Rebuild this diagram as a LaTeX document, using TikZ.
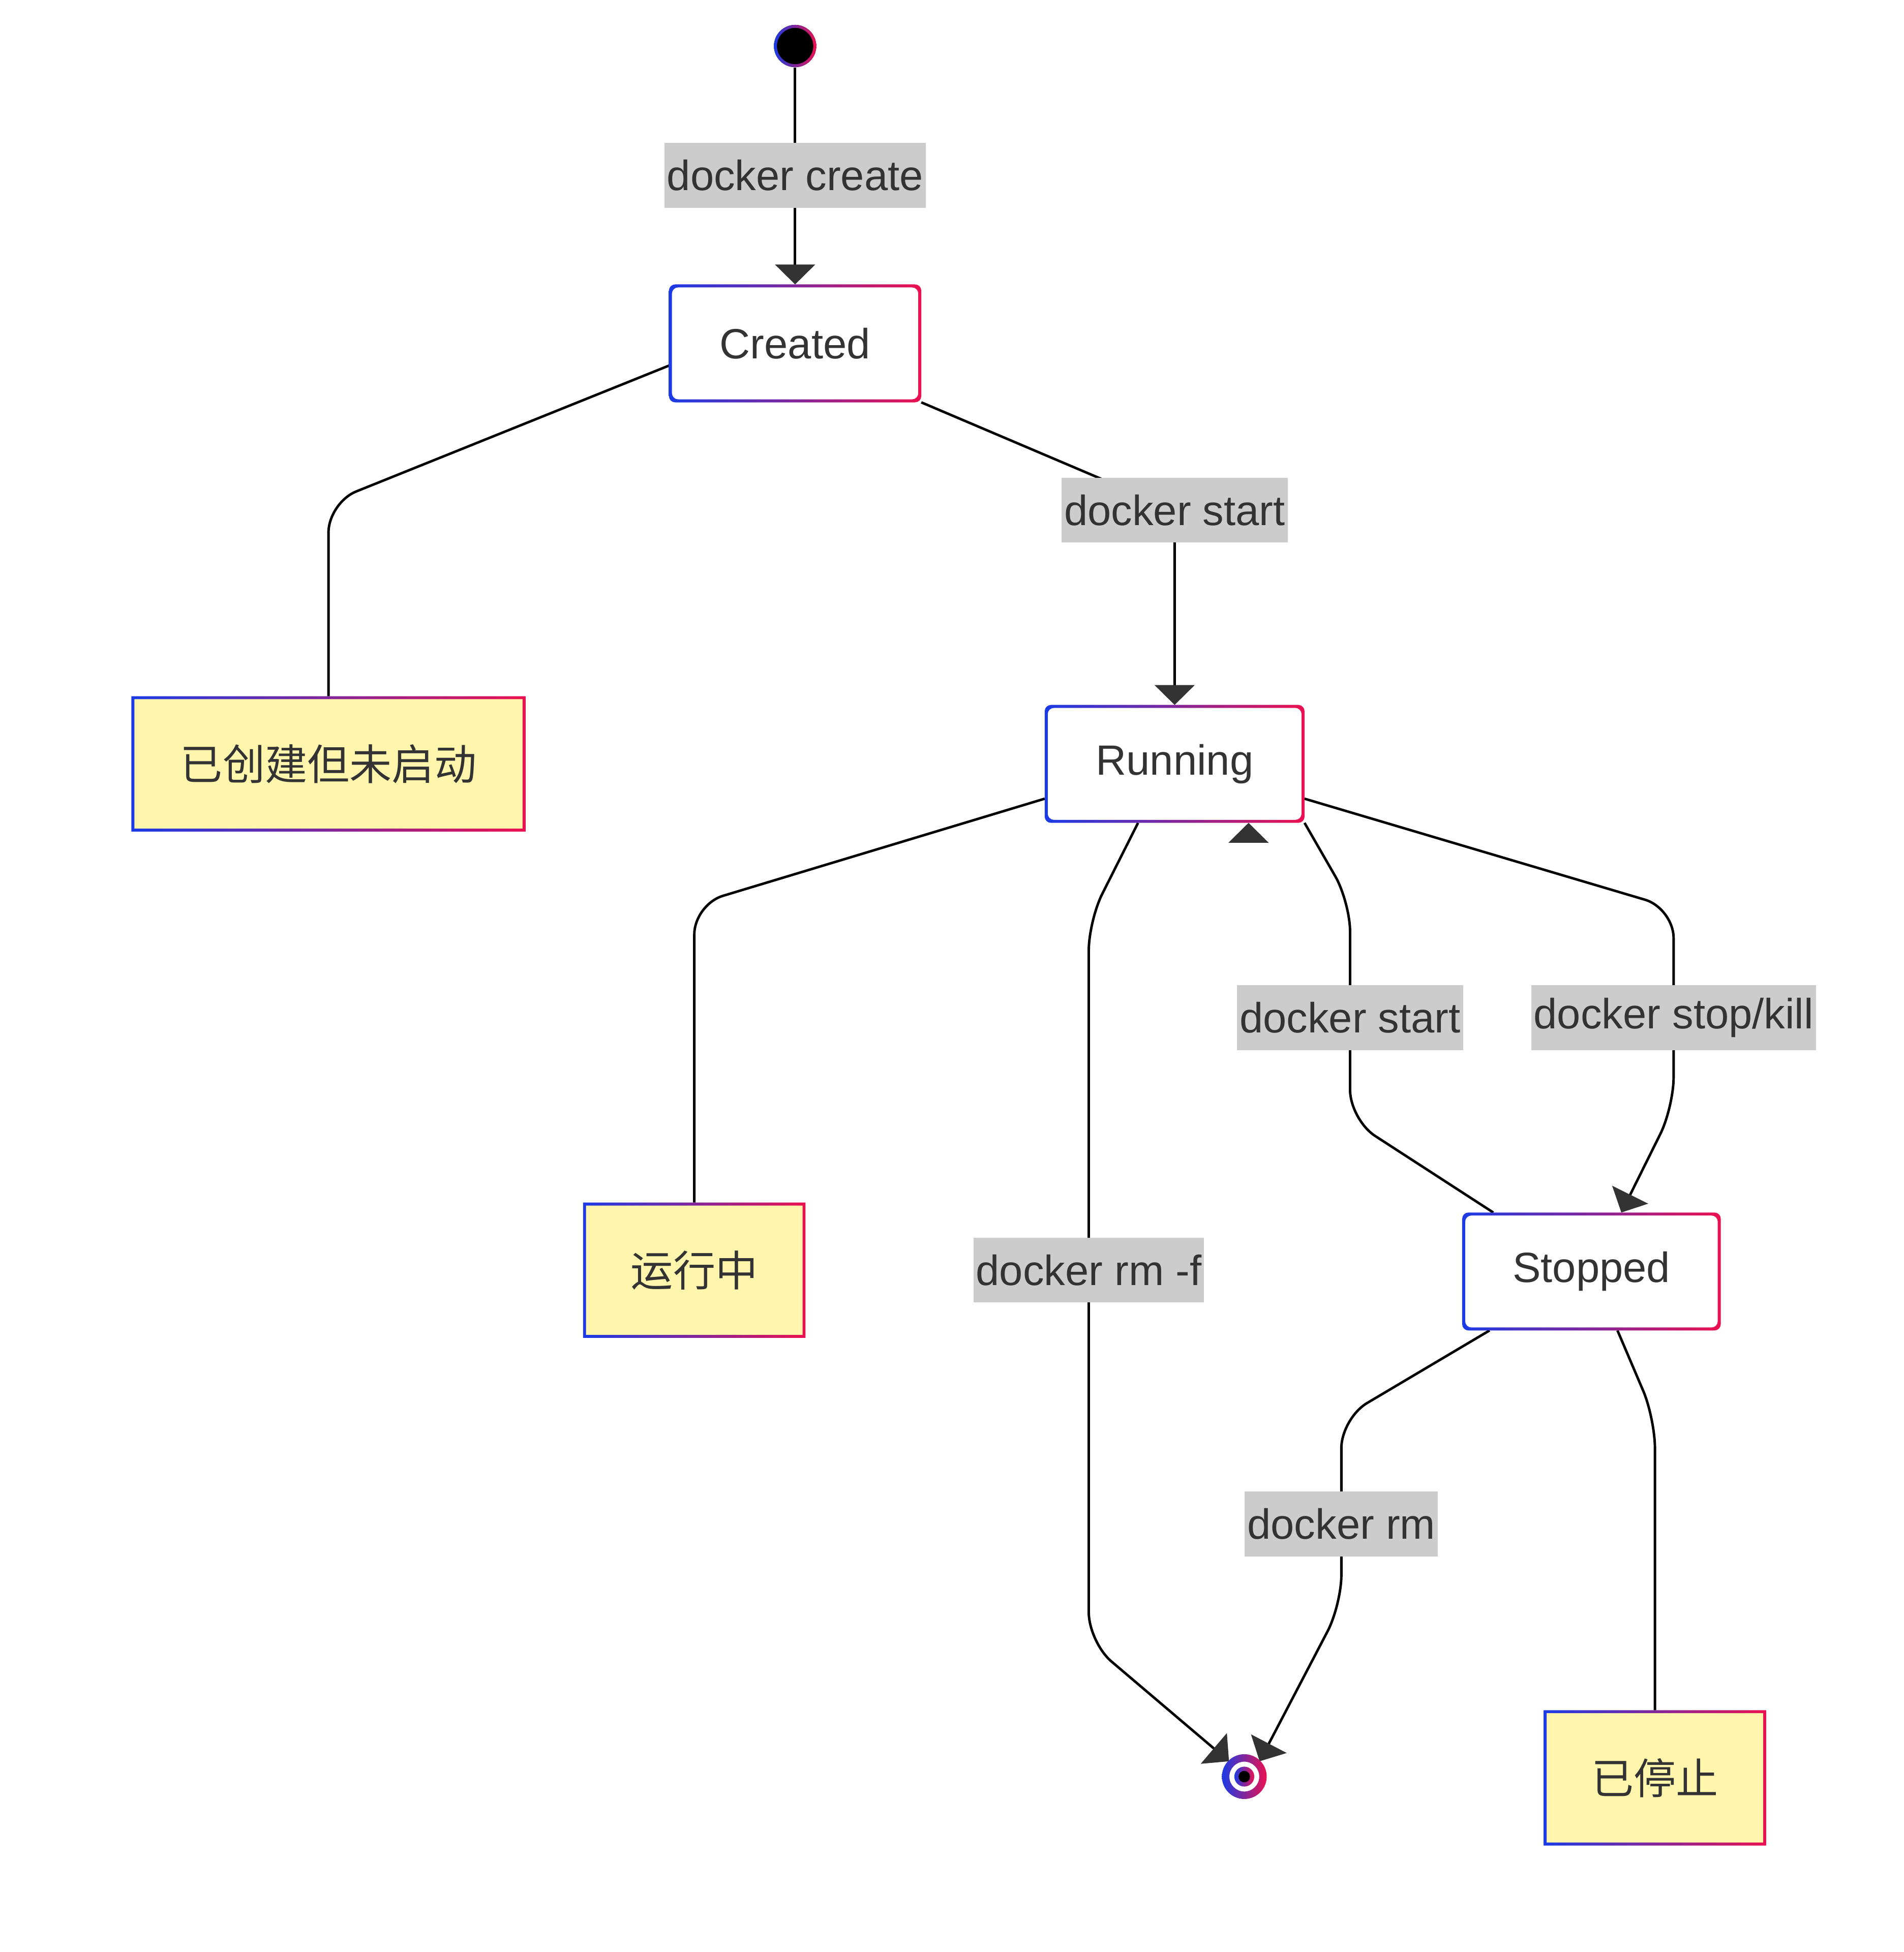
\documentclass[tikz,border=0pt]{standalone}
\usepackage{fontspec}
\setmainfont{Liberation Sans}
\newfontfamily\cjk{Noto Sans CJK SC}
\usetikzlibrary{arrows.meta}
\usetikzlibrary{positioning}
\definecolor{edgeblue}{HTML}{1A3BE6}
\definecolor{edgered}{HTML}{EB1150}
\definecolor{notefill}{HTML}{FFF5AD}
\definecolor{labelgrey}{HTML}{CCCCCC}
\definecolor{ink}{HTML}{333333}
\tikzset{
  state/.style={rectangle, rounded corners=2.5pt, fill=white, text=ink, font=\fontsize{17}{20}\selectfont, minimum height=47pt},
  note/.style={rectangle, fill=notefill, text=ink, font=\cjk\fontsize{17}{20}\selectfont, minimum height=54pt},
  trans/.style={fill=labelgrey, text=ink, font=\fontsize{17}{20}\selectfont, inner sep=1pt, minimum height=26pt},
  link/.style={draw=black, line width=1pt, rounded corners=12pt},
  go/.style={link, -{Triangle[length=8pt,width=16pt]}, arrows={[color=ink]}},
}
\newcommand\gradframe[2]{% node, corner radius
  \shade[even odd rule, left color=edgeblue, right color=edgered, rounded corners=#2]
    (#1.south west) rectangle (#1.north east)
    ([shift={(1.2pt,1.2pt)}]#1.south west) rectangle ([shift={(-1.2pt,-1.2pt)}]#1.north east);}
\begin{document}
\begin{tikzpicture}[x=0.5pt,y=-0.5pt]
\useasboundingbox (0,0) rectangle (1530,1569);
% states
\node[circle, fill=black, minimum size=17pt, inner sep=0pt] (start) at (639,37) {};
\node[state, minimum width=101pt] (created) at (639,276) {Created};
\node[state, minimum width=104pt] (running) at (944,614) {Running};
\node[state, minimum width=103.5pt] (stopped) at (1279,1022) {Stopped};
\node[circle, fill=white, minimum size=17pt, inner sep=0pt] (finish) at (1000,1428) {};
% notes
\node[note, minimum width=158pt] (notecreated) at (264,614) {已创建但未启动};
\node[note, minimum width=89pt] (noterunning) at (558,1021) {运行中};
\node[note, minimum width=89pt] (notestopped) at (1330,1429) {已停止};
% transitions
\draw[go] (start) -- (created);
\draw[link] (created.190) -- (264,404) -- (notecreated.north);
\draw[go] (created.south east) -- (944,410) -- (running.north);
\draw[link] (running.195) -- (558,727) -- (noterunning.north);
\draw[go] (running.south west) ++(75,0) -- (875,740) -- (875,1320) -- (finish.135);
\draw[go] (stopped.north west) ++(25,0) -- (1085,900) -- (1085,725) -- (running.south east) ++(-45,0);
\draw[go] (running.345) -- (1345,730) -- (1345,890) -- ([xshift=12pt]stopped.north);
\draw[go] (stopped.south west) ++(22,0) -- (1078,1140) -- (1078,1290) -- (finish.45);
\draw[link] (stopped.south east) ++(-83,0) -- (1330,1140) -- (notestopped.north);
% labels
\node[trans] (lcreate) at (639,141) {docker create};
\node[trans] (lstart) at (944,410) {docker start};
\node[trans] (lrestart) at (1085,818) {docker start};
\node[trans] (lstop) at (1345,818) {docker stop/kill};
\node[trans] (lrmf) at (875,1021) {docker rm -f};
\node[trans] (lrm) at (1078,1225) {docker rm};
% gradient borders
\gradframe{created}{2.5pt}
\gradframe{running}{2.5pt}
\gradframe{stopped}{2.5pt}
\gradframe{notecreated}{0pt}
\gradframe{noterunning}{0pt}
\gradframe{notestopped}{0pt}
\shade[even odd rule, left color=edgeblue, right color=edgered] (start) circle (8.5pt) (start) circle (7.3pt);
\shade[even odd rule, left color=edgeblue, right color=edgered] (finish) circle (9pt) (finish) circle (6pt);
\shade[left color=edgeblue, right color=edgered] (finish) circle (4pt);
\fill[black] (finish) circle (2.3pt);
\end{tikzpicture}
\end{document}
